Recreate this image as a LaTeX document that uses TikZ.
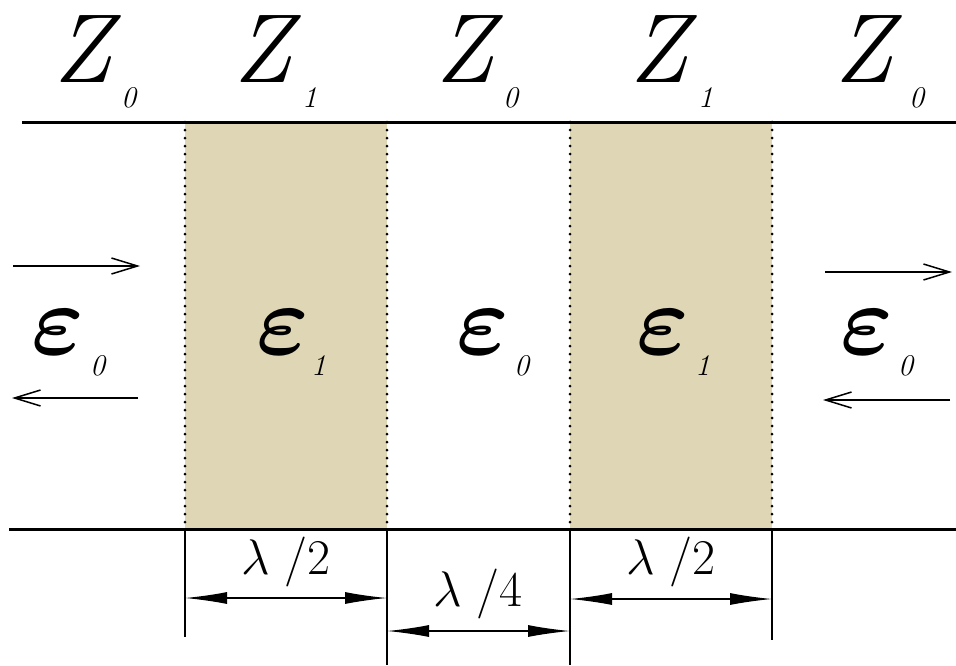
\RequirePackage{fix-cm}
\documentclass[tikz,border=0pt]{standalone}
\usepackage{xcolor}
\usepackage{amsmath}
\usepackage{tikz}
\usetikzlibrary{arrows.meta}

\definecolor{dielec}{RGB}{222,214,180}
\tikzset{
  zlab/.style={anchor=base west, inner sep=0pt, font=\fontsize{98}{98}\selectfont\itshape},
  elab/.style={anchor=base west, inner sep=0pt, font=\fontsize{100}{100}\selectfont},
  sublab/.style={anchor=base west, inner sep=0pt, font=\fontsize{30}{30}\selectfont\itshape},
  lamlab/.style={inner sep=0pt, font=\fontsize{50}{50}\selectfont},
  wave/.style={line width=1.5pt, -{Straight Barb[length=26pt,width=16pt]}},
  dimline/.style={line width=1.3pt, {Latex[length=42pt,width=12pt]}-{Latex[length=42pt,width=12pt]}},
  bound/.style={line width=3pt, dash pattern=on 0pt off 8pt, line cap=round}
}

\begin{document}
\begin{tikzpicture}[x=1pt,y=-1pt]
\useasboundingbox (0,0) rectangle (956,665);
% dielectric slabs
\fill[dielec] (185,122) rectangle (387,529);
\fill[dielec] (570,122) rectangle (772,529);
\draw[bound] (185,122) -- (185,529);
\draw[bound] (387,122) -- (387,529);
\draw[bound] (570,122) -- (570,529);
\draw[bound] (772,122) -- (772,529);
% line conductors
\draw[line width=3pt] (22,122) -- (956,122);
\draw[line width=3pt] (9,529) -- (956,529);
% impedances
\node[zlab] (zA) at (53,82) {Z};
\node[sublab] (zAs) at (121,107) {0};
\node[zlab] (zB) at (233,82) {Z};
\node[sublab] (zBs) at (302,107) {1};
\node[zlab] (zC) at (435,82) {Z};
\node[sublab] (zCs) at (503,107) {0};
\node[zlab] (zD) at (629,82) {Z};
\node[sublab] (zDs) at (698,107) {1};
\node[zlab] (zE) at (834,82) {Z};
\node[sublab] (zEs) at (909,107) {0};
% permittivities
\node[elab] (eA) at (31,354) {$\boldsymbol{\varepsilon}$};
\node[sublab] (eAs) at (90,375) {0};
\node[elab] (eB) at (256,354) {$\boldsymbol{\varepsilon}$};
\node[sublab] (eBs) at (311,375) {1};
\node[elab] (eC) at (456,354) {$\boldsymbol{\varepsilon}$};
\node[sublab] (eCs) at (514,375) {0};
\node[elab] (eD) at (636,354) {$\boldsymbol{\varepsilon}$};
\node[sublab] (eDs) at (695,375) {1};
\node[elab] (eE) at (840,354) {$\boldsymbol{\varepsilon}$};
\node[sublab] (eEs) at (898,375) {0};
% incident and reflected waves
\coordinate (wL1) at (13,266);
\coordinate (wL2) at (140,266);
\coordinate (wL3) at (138,398);
\coordinate (wL4) at (12,398);
\coordinate (wR1) at (825,272);
\coordinate (wR2) at (952,272);
\coordinate (wR3) at (950,400);
\coordinate (wR4) at (823,400);
\draw[wave] (wL1) -- (wL2);
\draw[wave] (wL3) -- (wL4);
\draw[wave] (wR1) -- (wR2);
\draw[wave] (wR3) -- (wR4);
% dimensions
\coordinate (tA) at (185,529);
\coordinate (tB) at (387,529);
\coordinate (tC) at (570,529);
\coordinate (tD) at (772,529);
\draw[line width=1.3pt] (tA) -- ++(0,108) coordinate (tAe);
\draw[line width=1.3pt] (tB) -- ++(0,136) coordinate (tBe);
\draw[line width=1.3pt] (tC) -- ++(0,136) coordinate (tCe);
\draw[line width=1.3pt] (tD) -- ++(0,111) coordinate (tDe);
\coordinate (dA) at (185,598);
\coordinate (dB) at (387,598);
\coordinate (dC) at (387,631);
\coordinate (dD) at (570,631);
\coordinate (dE) at (570,599);
\coordinate (dF) at (772,599);
\draw[dimline] (dA) -- (dB);
\draw[dimline] (dC) -- (dD);
\draw[dimline] (dE) -- (dF);
\node[lamlab] (lamA) at (286,562) {$\lambda$ /2};
\node[lamlab] (lamB) at (478,594) {$\lambda$ /4};
\node[lamlab] (lamC) at (671,562) {$\lambda$ /2};
\end{tikzpicture}
\end{document}
